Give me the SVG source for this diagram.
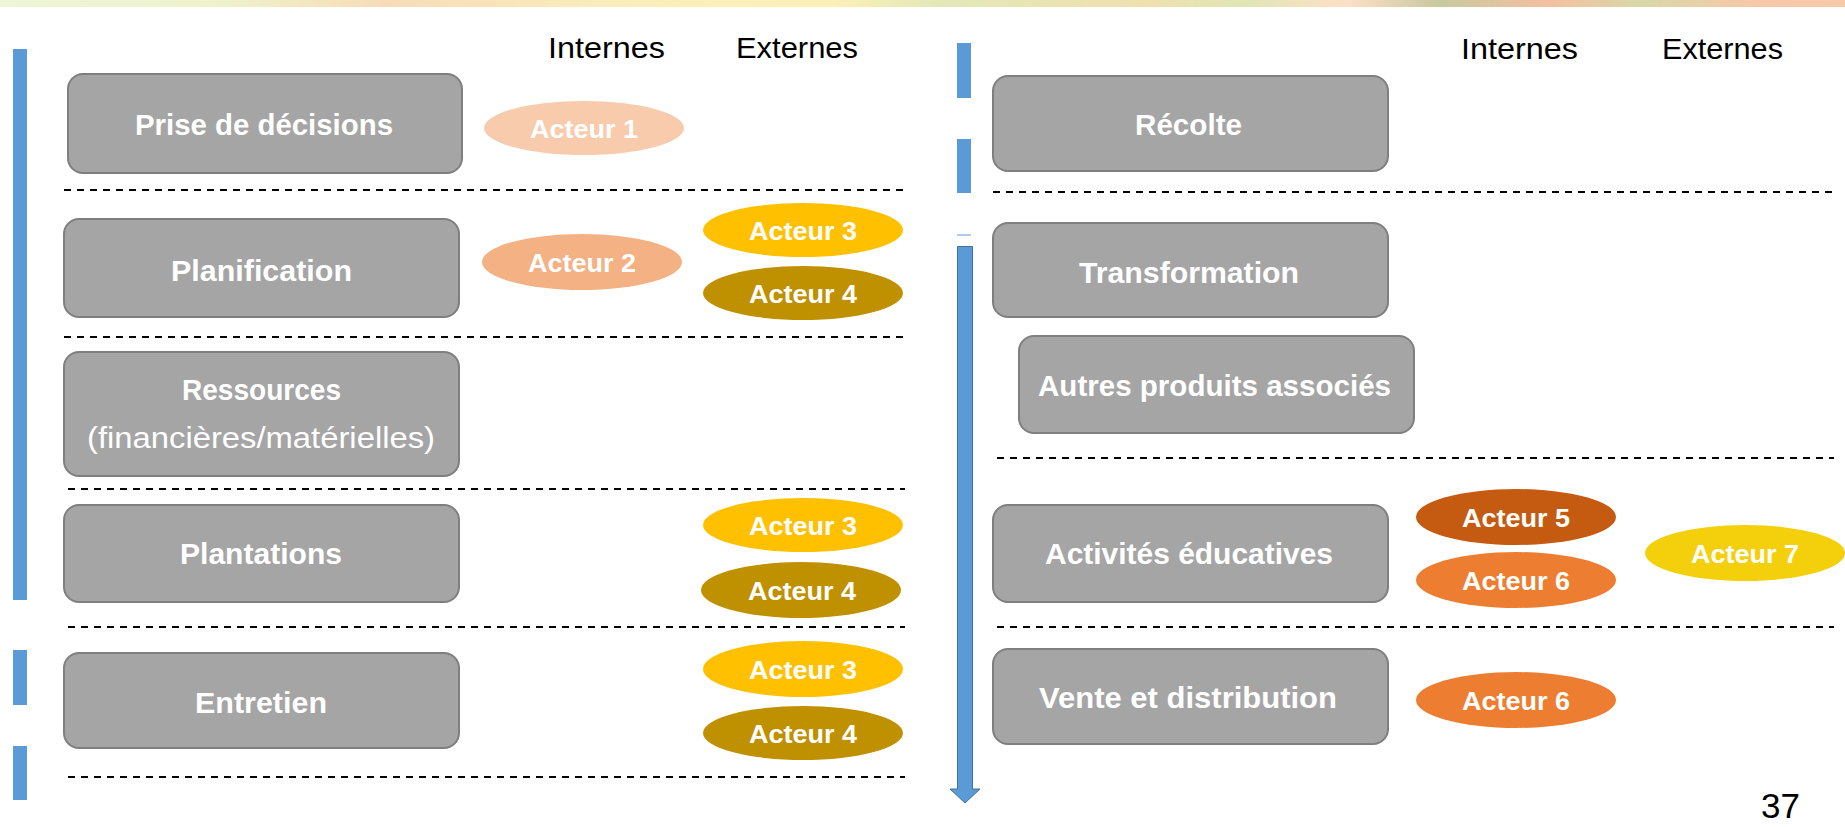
<svg xmlns="http://www.w3.org/2000/svg" width="1845" height="827" viewBox="0 0 1845 827">
<style>
.node{fill:#a5a5a5;stroke:#7f7f7f;stroke-width:2}
.lbl{font-family:"Liberation Sans",Arial,sans-serif;font-weight:bold;font-size:30px;fill:#ffffff}
.reg{font-family:"Liberation Sans",Arial,sans-serif;font-size:30px;fill:#ffffff}
.act{font-family:"Liberation Sans",Arial,sans-serif;font-weight:bold;font-size:26px;fill:#ffffff;text-anchor:middle}
.hdr{font-family:"Liberation Sans",Arial,sans-serif;font-size:29px;fill:#000000}
.sep{stroke:#000000;stroke-width:2;stroke-dasharray:7 6;fill:none}
.bar{fill:#5b9bd5}
.a1{fill:#f8cbad}.a2{fill:#f4b183}.a3{fill:#ffc000}.a4{fill:#bf9000}.a5{fill:#c55a11}.a6{fill:#ed7d31}.a7{fill:#f4d00c}
</style>
<defs>
<linearGradient id="band" x1="0" y1="0" x2="1" y2="0">
<stop offset="0" stop-color="#eef5d8"/>
<stop offset="0.12" stop-color="#eef2cc"/>
<stop offset="0.21" stop-color="#f8dcb8"/>
<stop offset="0.33" stop-color="#faedbc"/>
<stop offset="0.45" stop-color="#fbf1b8"/>
<stop offset="0.51" stop-color="#e3e8b8"/>
<stop offset="0.62" stop-color="#f0e0b0"/>
<stop offset="0.67" stop-color="#dfe6b4"/>
<stop offset="0.73" stop-color="#fde0c8"/>
<stop offset="0.78" stop-color="#c8c8a0"/>
<stop offset="0.84" stop-color="#f4c0a0"/>
<stop offset="0.89" stop-color="#d8d8a8"/>
<stop offset="0.95" stop-color="#f8c8a8"/>
<stop offset="1" stop-color="#f9c9a8"/>
</linearGradient>
</defs>
<rect width="1845" height="827" fill="#ffffff"/>
<rect x="0" y="0" width="1845" height="7" fill="url(#band)"/>

<g id="headers">
<text class="hdr" x="548" y="58" textLength="117" lengthAdjust="spacingAndGlyphs">Internes</text>
<text class="hdr" x="736" y="58" textLength="122" lengthAdjust="spacingAndGlyphs">Externes</text>
<text class="hdr" x="1461" y="59" textLength="117" lengthAdjust="spacingAndGlyphs">Internes</text>
<text class="hdr" x="1662" y="59" textLength="121" lengthAdjust="spacingAndGlyphs">Externes</text>
</g>

<g id="connectors">
<rect class="bar" x="13" y="49" width="14" height="551"/>
<rect class="bar" x="13" y="650" width="14" height="55"/>
<rect class="bar" x="13" y="746" width="14" height="54"/>
<rect class="bar" x="957" y="43" width="14" height="55"/>
<rect class="bar" x="957" y="139" width="14" height="54"/>
<line x1="957" y1="235" x2="971" y2="235" stroke="#5b9bd5" stroke-width="1"/>
<path d="M957.5 246.5 H972.5 V789 H980 L965 803 L950 789 H957.5 Z" fill="#5b9bd5" stroke="#41719c" stroke-width="1"/>
<line class="sep" x1="64" y1="190" x2="903" y2="190"/>
<line class="sep" x1="64" y1="337" x2="903" y2="337"/>
<line class="sep" x1="68" y1="489" x2="905" y2="489"/>
<line class="sep" x1="68" y1="627" x2="905" y2="627"/>
<line class="sep" x1="68" y1="777" x2="905" y2="777"/>
<line class="sep" x1="993" y1="192" x2="1832" y2="192"/>
<line class="sep" x1="997" y1="458" x2="1834" y2="458"/>
<line class="sep" x1="997" y1="627" x2="1834" y2="627"/>
</g>

<g id="n-prise">
<rect class="node" x="68" y="74" width="394" height="99" rx="15"/>
<text class="lbl" x="135" y="135" textLength="258" lengthAdjust="spacingAndGlyphs">Prise de décisions</text>
</g>
<g id="n-planification">
<rect class="node" x="64" y="219" width="395" height="98" rx="15"/>
<text class="lbl" x="171" y="281" textLength="181" lengthAdjust="spacingAndGlyphs">Planification</text>
</g>
<g id="n-ressources">
<rect class="node" x="64" y="352" width="395" height="124" rx="15"/>
<text class="lbl" x="182" y="400" textLength="159" lengthAdjust="spacingAndGlyphs">Ressources</text>
<text class="reg" x="87" y="448" textLength="348" lengthAdjust="spacingAndGlyphs">(financières/matérielles)</text>
</g>
<g id="n-plantations">
<rect class="node" x="64" y="505" width="395" height="97" rx="15"/>
<text class="lbl" x="180" y="564" textLength="162" lengthAdjust="spacingAndGlyphs">Plantations</text>
</g>
<g id="n-entretien">
<rect class="node" x="64" y="653" width="395" height="95" rx="15"/>
<text class="lbl" x="195" y="713" textLength="132" lengthAdjust="spacingAndGlyphs">Entretien</text>
</g>
<g id="n-recolte">
<rect class="node" x="993" y="76" width="395" height="95" rx="15"/>
<text class="lbl" x="1135" y="135" textLength="107" lengthAdjust="spacingAndGlyphs">Récolte</text>
</g>
<g id="n-transformation">
<rect class="node" x="993" y="223" width="395" height="94" rx="15"/>
<text class="lbl" x="1079" y="283" textLength="220" lengthAdjust="spacingAndGlyphs">Transformation</text>
</g>
<g id="n-autres">
<rect class="node" x="1019" y="336" width="395" height="97" rx="15"/>
<text class="lbl" x="1038" y="396" textLength="353" lengthAdjust="spacingAndGlyphs">Autres produits associés</text>
</g>
<g id="n-activites">
<rect class="node" x="993" y="505" width="395" height="97" rx="15"/>
<text class="lbl" x="1045" y="564" textLength="288" lengthAdjust="spacingAndGlyphs">Activités éducatives</text>
</g>
<g id="n-vente">
<rect class="node" x="993" y="649" width="395" height="95" rx="15"/>
<text class="lbl" x="1039" y="708" textLength="298" lengthAdjust="spacingAndGlyphs">Vente et distribution</text>
</g>

<g id="a-prise-1">
<ellipse class="a1" cx="584" cy="128" rx="100" ry="27"/>
<text class="act" x="584" y="138" textLength="108" lengthAdjust="spacingAndGlyphs">Acteur 1</text>
</g>
<g id="a-plan-2">
<ellipse class="a2" cx="582" cy="262" rx="100" ry="28"/>
<text class="act" x="582" y="272" textLength="108" lengthAdjust="spacingAndGlyphs">Acteur 2</text>
</g>
<g id="a-plan-3">
<ellipse class="a3" cx="803" cy="230" rx="100" ry="27"/>
<text class="act" x="803" y="240" textLength="108" lengthAdjust="spacingAndGlyphs">Acteur 3</text>
</g>
<g id="a-plan-4">
<ellipse class="a4" cx="803" cy="293" rx="100" ry="27"/>
<text class="act" x="803" y="303" textLength="108" lengthAdjust="spacingAndGlyphs">Acteur 4</text>
</g>
<g id="a-plant-3">
<ellipse class="a3" cx="803" cy="525" rx="100" ry="27"/>
<text class="act" x="803" y="535" textLength="108" lengthAdjust="spacingAndGlyphs">Acteur 3</text>
</g>
<g id="a-plant-4">
<ellipse class="a4" cx="801" cy="590" rx="100" ry="28"/>
<text class="act" x="802" y="600" textLength="108" lengthAdjust="spacingAndGlyphs">Acteur 4</text>
</g>
<g id="a-entr-3">
<ellipse class="a3" cx="803" cy="669" rx="100" ry="28"/>
<text class="act" x="803" y="679" textLength="108" lengthAdjust="spacingAndGlyphs">Acteur 3</text>
</g>
<g id="a-entr-4">
<ellipse class="a4" cx="803" cy="733" rx="100" ry="27"/>
<text class="act" x="803" y="743" textLength="108" lengthAdjust="spacingAndGlyphs">Acteur 4</text>
</g>
<g id="a-act-5">
<ellipse class="a5" cx="1516" cy="517" rx="100" ry="28"/>
<text class="act" x="1516" y="527" textLength="108" lengthAdjust="spacingAndGlyphs">Acteur 5</text>
</g>
<g id="a-act-6">
<ellipse class="a6" cx="1516" cy="580" rx="100" ry="28"/>
<text class="act" x="1516" y="590" textLength="108" lengthAdjust="spacingAndGlyphs">Acteur 6</text>
</g>
<g id="a-act-7">
<ellipse class="a7" cx="1745" cy="553" rx="100" ry="28"/>
<text class="act" x="1745" y="563" textLength="108" lengthAdjust="spacingAndGlyphs">Acteur 7</text>
</g>
<g id="a-vente-6">
<ellipse class="a6" cx="1516" cy="700" rx="100" ry="28"/>
<text class="act" x="1516" y="710" textLength="108" lengthAdjust="spacingAndGlyphs">Acteur 6</text>
</g>

<text id="page" x="1761" y="818" font-family="Liberation Sans, Arial, sans-serif" font-size="35" fill="#000000">37</text>
</svg>
